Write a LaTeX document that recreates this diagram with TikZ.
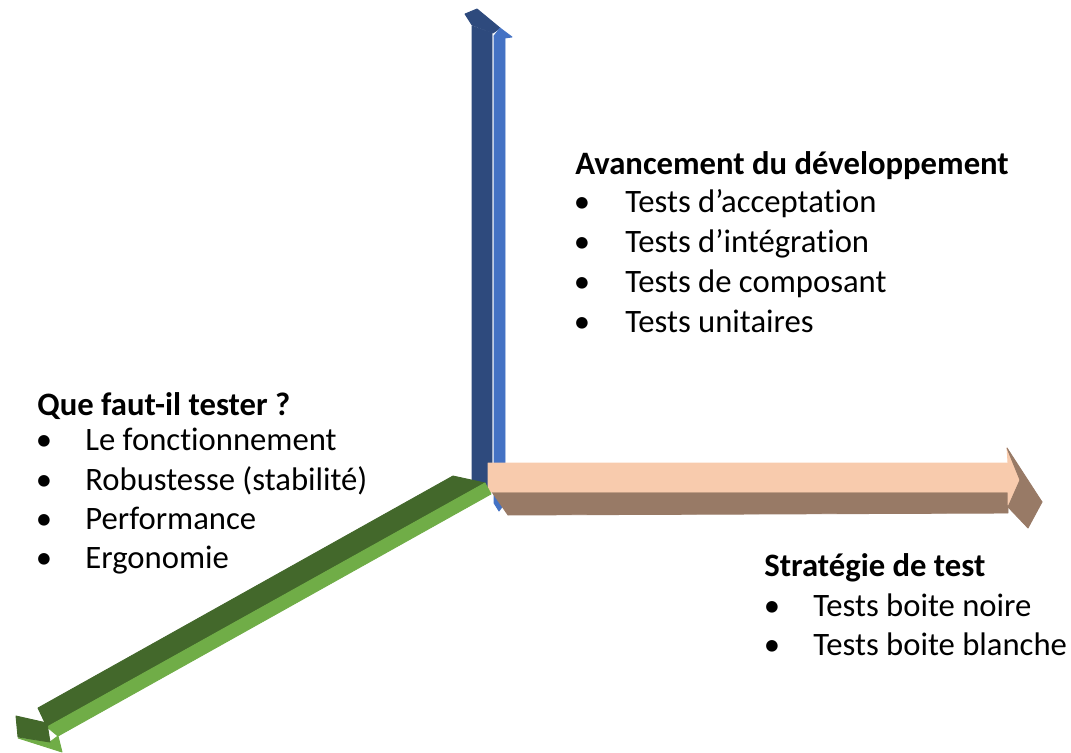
\documentclass[tikz,border=0pt]{standalone}
\usepackage{fontspec}
\setmainfont{Carlito}[Ligatures=CommonOff]
\usepackage{tikz}
\usetikzlibrary{positioning}

\definecolor{bluedark}{RGB}{46,74,125}
\definecolor{bluelight}{RGB}{68,114,196}
\definecolor{peach}{RGB}{248,203,173}
\definecolor{brownside}{RGB}{152,122,102}
\definecolor{greendark}{RGB}{67,104,43}
\definecolor{greenlight}{RGB}{112,173,71}

\tikzset{
	face/.style={draw=gray!45, line width=0.5pt, line join=round},
	title/.style={anchor=base west, inner sep=0pt, font=\fontsize{18.6}{22}\selectfont\bfseries},
	item/.style={anchor=base west, inner sep=0pt, font=\fontsize{18.6}{22}\selectfont},
	dot/.style={anchor=base, inner sep=0pt, font=\fontsize{18.6}{22}\selectfont}
}

\begin{document}
\begin{tikzpicture}[x=0.02cm,y=-0.02cm]
		
		\useasboundingbox (0,0) rectangle (1071,753);
		
		% vertical arrow
		\begin{scope}
			\fill[face, bluedark] (472,26) -- (492,33) -- (492,490) -- (472,490) -- cycle;
			\fill[face, bluelight] (494,36) -- (505,38) -- (505,503) -- (499,511) -- (494,503) -- cycle;
			\fill[face, bluedark] (465,14) -- (477,9) -- (500,28) -- (493,33) -- (472,25) -- cycle;
			\fill[face, bluelight] (494,36) -- (500,28) -- (512,37) -- (505,38) -- cycle;
		\end{scope}
		
		% horizontal arrow
		\begin{scope}
			\fill[face, brownside] (492,492) -- (1008,492) -- (1008,513) -- (508,515) -- cycle;
			\fill[face, peach] (488,463) -- (1008,463) -- (1007,448) -- (1020,480) -- (1008,505) -- (1008,492) -- (488,492) -- cycle;
			\fill[face, brownside] (1007,448) -- (1042,502) -- (1020,480) -- cycle;
			\fill[face, brownside] (1020,480) -- (1042,502) -- (1028,528) -- (1008,507) -- cycle;
		\end{scope}
		
		% oblique arrow
		\begin{scope}
			\fill[face, greendark] (453,476) -- (485,483) -- (47,727) -- (38,708) -- cycle;
			\fill[face, greenlight] (485,483) -- (491,494) -- (58,736) -- (47,727) -- cycle;
			\fill[face, greenlight] (18,738) -- (50,742) -- (58,736) -- (62,752) -- cycle;
			\fill[face, greendark] (16,716) -- (47,723) -- (50,742) -- (18,737) -- cycle;
		\end{scope}
		
		% texts
		\node[title] (avtitle) at (575,174) {Avancement du développement};
		\node[dot] (avdot1) at (582,213) {\textbullet};
		\node[dot] (avdot2) at (582,253) {\textbullet};
		\node[dot] (avdot3) at (582,292) {\textbullet};
		\node[dot] (avdot4) at (582,332) {\textbullet};
		\node[item] (avacc) at (625,213) {Tests d’acceptation};
		\node[item] (avint) at (625,253) {Tests d’intégration};
		\node[item] (avcomp) at (625,292) {Tests de composant};
		\node[item] (avunit) at (625,332) {Tests unitaires};
		
		\node[title] (qutitle) at (37,415) {Que faut-il tester ?};
		\node[dot] (qudot1) at (44,450) {\textbullet};
		\node[dot] (qudot2) at (44,490) {\textbullet};
		\node[dot] (qudot3) at (44,529) {\textbullet};
		\node[dot] (qudot4) at (44,568) {\textbullet};
		\node[item] (qufonc) at (85,450) {Le fonctionnement};
		\node[item] (qurob) at (85,490) {Robustesse (stabilité)};
		\node[item] (quperf) at (85,529) {Performance};
		\node[item] (quergo) at (85,568) {Ergonomie};
		
		\node[title] (sttitle) at (764,576) {Stratégie de test};
		\node[dot] (stdot1) at (772,616) {\textbullet};
		\node[dot] (stdot2) at (772,655) {\textbullet};
		\node[item] (stnoire) at (813,616) {Tests boite noire};
		\node[item] (stblanc) at (813,655) {Tests boite blanche};
	\end{tikzpicture}
\end{document}
